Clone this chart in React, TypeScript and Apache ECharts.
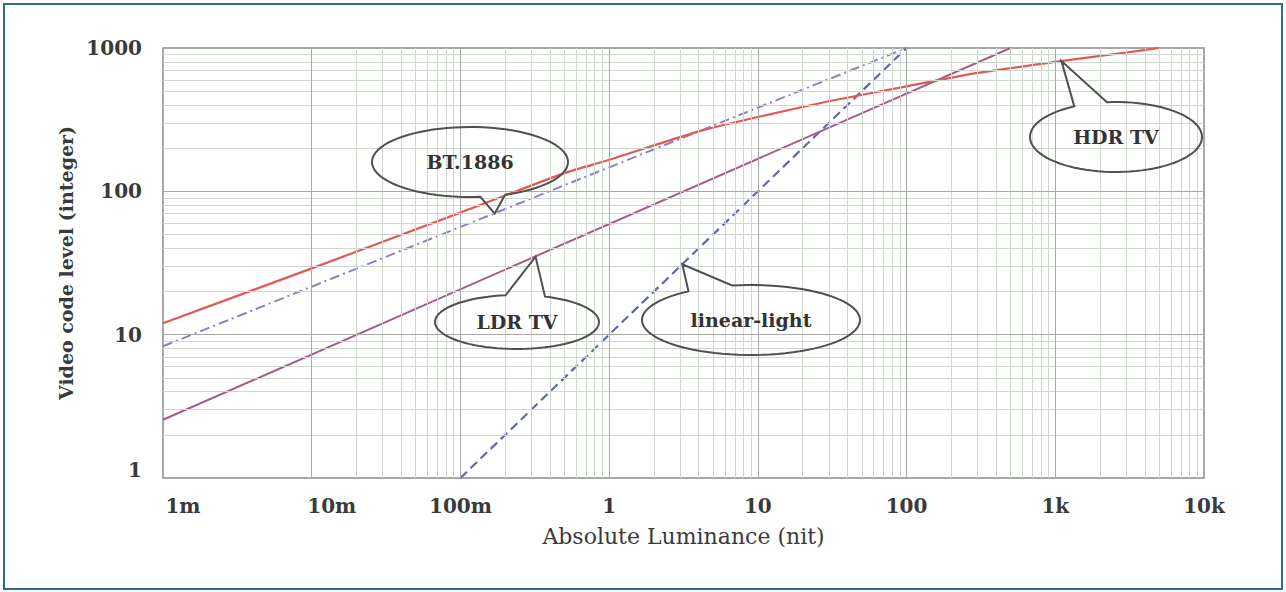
import React, { useEffect, useRef } from "react";
import * as echarts from "echarts";

// ---- axis ticks ----
const xTickValues = [0.001, 0.01, 0.1, 1, 10, 100, 1000, 10000];
const xTickLabels = ["1m", "10m", "100m", "1", "10", "100", "1k", "10k"];
const yTickValues = [1, 10, 100, 1000];
const yTickLabels = ["1", "10", "100", "1000"];
const minorSteps = [2, 3, 4, 5, 6, 7, 8, 9];

// ---- series (absolute luminance in nit, video code level) ----
const hdrLum = [0.001, 0.01, 0.1, 0.5, 1, 4, 10, 30, 100, 300, 1000, 3000, 5000];
const hdrCode = [12, 29, 71, 134, 166, 262, 330, 425, 540, 670, 800, 930, 1000];

const bt1886Lum = [0.001, 100];
const bt1886Code = [8.3, 1000];

const ldrLum = [0.001, 500];
const ldrCode = [2.55, 1000];

const linearLum = [0.1, 100];
const linearCode = [1, 1000];

// ---- callouts ----
const callouts = [
  { text: "BT.1886", tip: [0.17, 70], cx: 470, cy: 162, rx: 98, ry: 35, gap: [69, 84] },
  { text: "LDR TV", tip: [0.32, 35], cx: 517, cy: 322, rx: 82, ry: 27, gap: [262, 290] },
  { text: "linear-light", tip: [3.1, 31], cx: 751, cy: 320, rx: 109, ry: 35, gap: [235, 260] },
  { text: "HDR TV", tip: [1100, 810], cx: 1116, cy: 137, rx: 86, ry: 35, gap: [241, 264] },
];

const FONT = "DejaVu Serif";

function zip(xs: number[], ys: number[]) {
  return xs.map((x, i) => [x, ys[i]]);
}

export default function App() {
  const ref = useRef<HTMLDivElement>(null);

  useEffect(() => {
    if (!ref.current) return;
    const chart = echarts.init(ref.current, undefined, { renderer: "svg" });

    const xMinor: any[] = [];
    const yMinor: any[] = [];
    for (let i = 0; i < xTickValues.length - 1; i++) {
      for (const m of minorSteps) xMinor.push({ xAxis: xTickValues[i] * m });
    }
    for (let i = 0; i < yTickValues.length - 1; i++) {
      for (const m of minorSteps) yMinor.push({ yAxis: yTickValues[i] * m });
    }
    const xMajor = xTickValues.slice(1, -1).map((v) => ({ xAxis: v }));
    const yMajor = yTickValues.slice(1, -1).map((v) => ({ yAxis: v }));

    const labelFor = (v: number, vals: number[], labels: string[]) => {
      const e = Math.round(Math.log10(v));
      const idx = vals.findIndex((t) => Math.round(Math.log10(t)) === e);
      return idx >= 0 ? labels[idx] : "";
    };

    const gridLineSeries = (name: string, data: any[], color: string, width: number, z: number) => ({
      name,
      type: "line",
      data: [],
      z,
      silent: true,
      markLine: {
        silent: true,
        symbol: ["none", "none"],
        label: { show: false },
        lineStyle: { color, width, type: "solid" },
        emphasis: { disabled: true },
        data,
      },
    });

    const labelText = {
      fontFamily: FONT,
      fontSize: 20,
      fontWeight: "bold",
      color: "#3a3a3a",
    };

    chart.setOption({
      animation: false,
      backgroundColor: "#ffffff",
      grid: {
        left: 163,
        right: 82,
        top: 48,
        bottom: 114,
        show: true,
        borderColor: "#8c8c8c",
        borderWidth: 1.5,
        backgroundColor: "transparent",
      },
      xAxis: {
        type: "log",
        logBase: 10,
        min: 0.001,
        max: 10000,
        name: "Absolute Luminance (nit)",
        nameLocation: "middle",
        nameGap: 47,
        nameTextStyle: { fontFamily: FONT, fontSize: 22, color: "#3a3a3a" },
        axisLine: { show: false },
        axisTick: { show: false },
        splitLine: { show: false },
        axisLabel: {
          margin: 18,
          ...labelText,
          formatter: (v: number) => {
            const s = labelFor(v, xTickValues, xTickLabels);
            return v < 0.05 ? "{s|" + s + "}" : s;
          },
          rich: {
            s: { ...labelText, padding: [0, 0, 0, 40] },
          },
        },
      },
      yAxis: {
        type: "log",
        logBase: 10,
        min: 1,
        max: 1000,
        name: "Video code level (integer)",
        nameLocation: "middle",
        nameGap: 76,
        nameTextStyle: { fontFamily: FONT, fontSize: 19, fontWeight: "bold", color: "#3a3a3a" },
        axisLine: { show: false },
        axisTick: { show: false },
        splitLine: { show: false },
        axisLabel: {
          margin: 21,
          ...labelText,
          formatter: (v: number) => {
            const s = labelFor(v, yTickValues, yTickLabels);
            return v < 1.5 ? "{b|" + s + "}" : s;
          },
          rich: {
            b: { ...labelText, padding: [0, 0, 16, 0] },
          },
        },
      },
      series: [
        gridLineSeries("minorX", xMinor, "#cfd8cc", 1, 1),
        gridLineSeries("minorY", yMinor, "#cfd8cc", 1, 1),
        gridLineSeries("majorX", xMajor, "#a8a8a8", 1, 1),
        gridLineSeries("majorY", yMajor, "#a8a8a8", 1, 1),
        {
          name: "linear-light",
          type: "line",
          data: zip(linearLum, linearCode),
          showSymbol: false,
          z: 3,
          lineStyle: { color: "#6068a8", width: 2.2, type: [9, 5] },
        },
        {
          name: "BT.1886",
          type: "line",
          data: zip(bt1886Lum, bt1886Code),
          showSymbol: false,
          z: 3,
          lineStyle: { color: "#8e80c2", width: 2, type: [10, 4, 2, 4] },
        },
        {
          name: "LDR TV",
          type: "line",
          data: zip(ldrLum, ldrCode),
          showSymbol: false,
          z: 3,
          lineStyle: { color: "#a45c8c", width: 2 },
        },
        {
          name: "HDR TV",
          type: "line",
          data: zip(hdrLum, hdrCode),
          showSymbol: false,
          smooth: 0.2,
          z: 4,
          lineStyle: { color: "#e05a54", width: 2.2 },
        },
      ],
    });

    const graphics: any[] = [
      {
        type: "rect",
        shape: { x: 4, y: 4, width: 1278, height: 585 },
        style: { fill: "none", stroke: "#2c6a9c", lineWidth: 2 },
        silent: true,
        z: 20,
      },
    ];
    callouts.forEach((c) => {
      const tip = chart.convertToPixel({ gridIndex: 0 }, c.tip) as number[];
      const pts: number[][] = [];
      const start = c.gap[1];
      const end = c.gap[0] + 360;
      const n = 80;
      for (let i = 0; i <= n; i++) {
        const a = ((start + ((end - start) * i) / n) * Math.PI) / 180;
        pts.push([c.cx + c.rx * Math.cos(a), c.cy + c.ry * Math.sin(a)]);
      }
      pts.push(tip);
      graphics.push({
        type: "polygon",
        shape: { points: pts },
        style: { fill: "none", stroke: "#505050", lineWidth: 2 },
        silent: true,
        z: 10,
      });
      graphics.push({
        type: "text",
        x: c.cx,
        y: c.cy,
        style: {
          text: c.text,
          fontFamily: FONT,
          fontSize: 19,
          fontWeight: "bold",
          fill: "#333333",
          align: "center",
          verticalAlign: "middle",
        },
        silent: true,
        z: 11,
      });
    });
    chart.setOption({ graphic: graphics });

    return () => chart.dispose();
  }, []);

  return (
    <div
      ref={ref}
      style={{ position: "absolute", left: 0, top: 0, width: 1286, height: 592 }}
    />
  );
}
